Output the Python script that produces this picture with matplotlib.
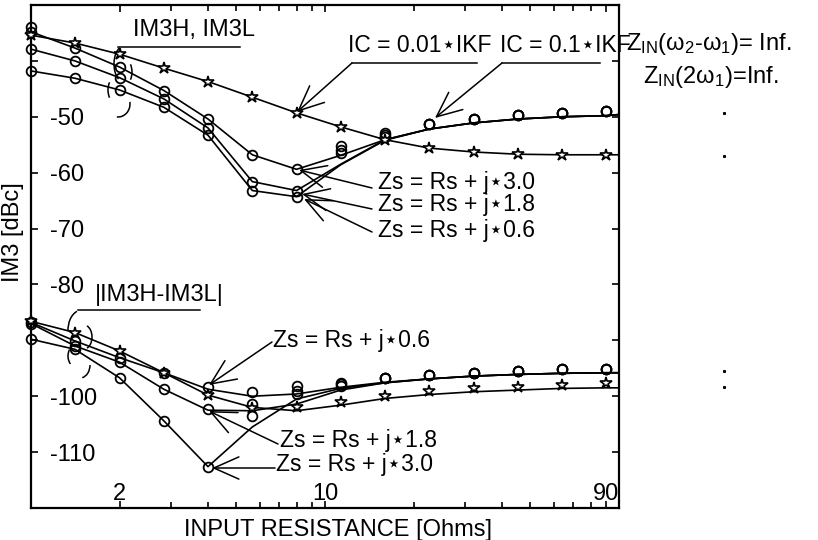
import matplotlib
matplotlib.use("Agg")
import matplotlib.pyplot as plt
import matplotlib.transforms as mtransforms
from matplotlib.lines import Line2D
from matplotlib.patches import Arc
from matplotlib.ticker import FixedLocator, LogLocator, NullFormatter

plt.rcParams['font.family'] = ['Liberation Sans', 'DejaVu Sans']
plt.rcParams['mathtext.fontset'] = 'custom'
plt.rcParams['mathtext.rm'] = 'Liberation Sans'
plt.rcParams['mathtext.it'] = 'Liberation Sans:italic'

# input resistance [Ohms], sqrt(2) steps
R = [1, 1.41, 2, 2.83, 4, 5.66, 8, 11.3, 16, 22.6, 32, 45.3, 64, 90.5]
R_line = R + [100]

# ---- IM3H, IM3L ----
top_star = [-35.4, -36.8, -38.8, -41.3, -43.7, -46.5, -49.3, -51.8, -54.1, -55.6, -56.3, -56.7, -56.8, -56.8]
top_star_line = top_star + [-56.8]

top_j30_line = [-34.8, -37.7, -41.1, -45.3, -50.4, -56.8, -59.4, -56.9, -54.1, -52.2, -51.1, -50.4, -50.0, -49.8, -49.6]
top_j18_line = [-37.9, -40.0, -43.0, -46.8, -52.0, -61.6, -63.2, -58.5, -54.1, -52.2, -51.1, -50.4, -50.0, -49.8, -49.6]
top_j06_line = [-41.8, -43.1, -45.2, -48.3, -53.3, -63.2, -64.3, -58.6, -54.2, -52.2, -51.1, -50.4, -50.0, -49.8, -49.6]

top_j30_mark = [-34.8, -37.7, -41.1, -45.3, -50.4, -56.8, -59.4, -55.3, -52.9, -51.3, -50.4, -49.7, -49.3, -49.05]
top_j18_mark = [-37.9, -40.0, -43.0, -46.8, -52.0, -61.6, -63.2, -55.9, -53.3, -51.3, -50.4, -49.7, -49.3, -49.05]
top_j06_mark = [-41.8, -43.1, -45.2, -48.3, -53.3, -63.2, -64.3, -56.5, -53.7, -51.3, -50.4, -49.7, -49.3, -49.05]
extra_R = [1]
extra_im3 = [-33.9]

# ---- |IM3H-IM3L| ----
bot_star_line = [-86.6, -88.6, -91.9, -95.8, -99.8, -102.0, -102.6, -101.6, -100.4, -99.7, -99.2, -98.9, -98.6, -98.5, -98.5]
bot_star_mark = [-86.6, -88.6, -91.9, -95.8, -99.8, -102.1, -102.0, -101.0, -99.9, -99.05, -98.6, -98.3, -98.0, -97.7]

bot_j06_line = [-86.8, -90.1, -93.1, -95.8, -98.75, -100.0, -99.6, -98.4, -97.5, -96.9, -96.4, -96.1, -95.9, -95.8, -95.8]
bot_j18_line = [-87.0, -91.0, -93.9, -98.75, -102.5, -102.6, -101.4, -98.9, -97.6, -96.9, -96.4, -96.1, -95.9, -95.8, -95.8]
bot_j30_line = [-89.8, -91.6, -96.7, -104.4, -112.6, -105.5, -100.5, -98.6, -97.6, -96.9, -96.4, -96.1, -95.9, -95.8, -95.8]

bot_j06_mark = [-86.8, -90.1, -93.1, -95.8, -98.3, -99.2, -98.2, -97.7, -96.8, -96.2, -95.8, -95.5, -95.2, -95.05]
bot_j18_mark = [-87.0, -91.0, -93.9, -98.75, -102.2, -101.4, -99.0, -97.9, -96.8, -96.2, -95.8, -95.5, -95.2, -95.05]
bot_j30_mark = [-89.8, -91.6, -96.7, -104.4, -112.6, -103.6, -99.6, -98.1, -96.8, -96.2, -95.8, -95.5, -95.2, -95.05]

# stray dots right of the frame
dot_R = [228, 228, 228, 228]
dot_im3 = [-49.3, -57.1, -95.4, -98.4]

x_tick_vals = [2, 10, 90]
x_tick_labels = ['2', '10', '90']
y_tick_vals = list(range(-120, -29, 10))
y_tick_labels = ['', '-110', '-100', '', '-80', '-70', '-60', '-50', '', '']

W, H = 818, 540
fig = plt.figure(figsize=(W / 100, H / 100), dpi=100)
ax = fig.add_axes([31 / W, 1 - 508 / H, 588 / W, 503 / H])
pix = mtransforms.Affine2D().scale(1 / W, -1 / H).translate(0, 1) + fig.transFigure

line_kw = dict(color='black', lw=1.2, zorder=2)
circ_kw = dict(ls='none', marker='o', ms=7, mfc='none', mec='black', mew=1.3, clip_on=False, zorder=3)
star_kw = dict(ls='none', marker='*', ms=9, mfc='white', mec='black', mew=1.2, clip_on=False, zorder=3)

for yl in [top_j30_line, top_j18_line, top_j06_line, bot_j06_line, bot_j18_line, bot_j30_line]:
    ax.plot(R_line, yl, **line_kw)
ax.plot(R_line, top_star_line, **line_kw)
ax.plot(R_line, bot_star_line, **line_kw)

for ym in [top_j30_mark, top_j18_mark, top_j06_mark, bot_j06_mark, bot_j18_mark, bot_j30_mark]:
    ax.plot(R, ym, **circ_kw)
ax.plot(extra_R, extra_im3, **circ_kw)
ax.plot(R, top_star, **star_kw)
ax.plot(R, bot_star_mark, **star_kw)
ax.plot(dot_R, dot_im3, ls='none', marker='s', ms=1.2, color='black', clip_on=False)

ax.set_xscale('log')
ax.set_xlim(1, 100)
ax.set_ylim(-120, -30)
ax.xaxis.set_major_locator(FixedLocator(x_tick_vals))
ax.set_xticklabels(x_tick_labels)
ax.xaxis.set_minor_locator(LogLocator(base=10, subs=range(2, 10)))
ax.xaxis.set_minor_formatter(NullFormatter())
ax.set_yticks(y_tick_vals)
ax.set_yticklabels(y_tick_labels)
ax.tick_params(axis='both', which='both', direction='in', top=True, right=True,
               labelsize=17, width=1.2)
ax.tick_params(axis='x', which='major', length=5, pad=-18)
ax.tick_params(axis='x', which='minor', length=4)
ax.tick_params(axis='y', which='major', length=5, pad=-14)
for lab in ax.get_yticklabels():
    lab.set_horizontalalignment('left')
for sp in ax.spines.values():
    sp.set_linewidth(1.6)

ax.set_xlabel('INPUT RESISTANCE [Ohms]', fontsize=17)
ax.xaxis.set_label_coords(0.522, -0.022)
ax.set_ylabel('IM3 [dBc]', fontsize=17)
ax.yaxis.set_label_coords(-0.012, 0.549)

fs = 17
def label(x, y, s, va='center', size=fs):
    fig.text(x, y, s, transform=pix, fontsize=size, ha='left', va=va)

def seg(xs, ys):
    fig.add_artist(Line2D(xs, ys, transform=pix, color='black', lw=1.1))

def arrow(tail, tip):
    ax.annotate('', xy=tip, xycoords=pix, xytext=tail, textcoords=pix,
                arrowprops=dict(arrowstyle='->,head_length=1.8,head_width=0.8',
                                mutation_scale=10, lw=1.1, color='black',
                                shrinkA=0, shrinkB=0), annotation_clip=False)

def arc(c, w, h, t1, t2):
    fig.add_artist(Arc(c, w, h, theta1=t1, theta2=t2, transform=pix, color='black', lw=1.1))

# group labels with brackets
label(133, 30, 'IM3H, IM3L')
seg([118, 240], [47, 47])
arc((124, 64), 20, 36, 110, 255)
arc((124, 72), 16, 26, -50, 50)
arc((116, 90), 16, 26, 130, 230)
arc((118, 104), 24, 26, -10, 95)

label(95, 295, '|IM3H-IM3L|')
seg([78, 200], [310, 310])
arc((82, 330), 28, 40, 175, 255)
arc((84, 337), 16, 24, -75, 75)
arc((76, 356), 16, 22, 125, 225)
arc((80, 365), 20, 26, 0, 80)

# bias current labels
ic_fs = 16.5
label(348, 46, 'IC = 0.01⋆IKF', size=ic_fs)
seg([352, 477], [63, 63])
arrow((352, 63), (297, 112))
label(500, 46, 'IC = 0.1⋆IKF', size=ic_fs)
seg([502, 600], [63, 63])
arrow((502, 63), (435, 118))

label(626, 50, 'Z$_\\mathrm{IN}$(ω$_2$-ω$_1$)= Inf.', va='baseline')
label(643, 83, 'Z$_\\mathrm{IN}$(2ω$_1$)=Inf.', va='baseline')

# source impedance labels, upper group
zs_fs = 16.5
label(378, 183, 'Zs = Rs + j⋆3.0', size=zs_fs)
arrow((372, 188), (299, 170))
label(378, 205, 'Zs = Rs + j⋆1.8', size=zs_fs)
arrow((372, 209), (302, 194))
label(378, 231, 'Zs = Rs + j⋆0.6', size=zs_fs)
arrow((372, 232), (304, 199))

# source impedance labels, lower group
label(273, 341, 'Zs = Rs + j⋆0.6', size=zs_fs)
arrow((272, 342), (209, 385))
label(280, 441, 'Zs = Rs + j⋆1.8', size=zs_fs)
arrow((278, 444), (209, 411))
label(276, 465, 'Zs = Rs + j⋆3.0', size=zs_fs)
arrow((275, 468), (212, 468))

fig.savefig('out.png', dpi=100)
